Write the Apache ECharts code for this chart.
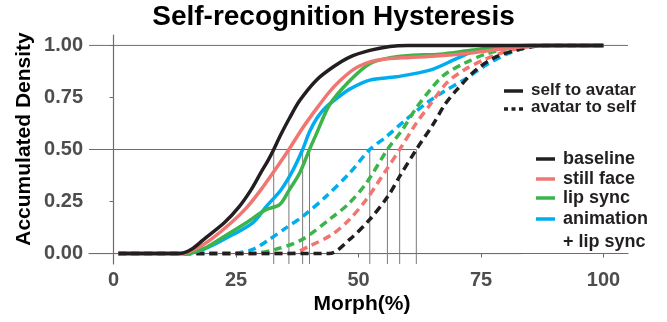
<!DOCTYPE html>
<html>
<head>
<meta charset="utf-8">
<script src="https://cdn.jsdelivr.net/npm/echarts@6/dist/echarts.min.js"></script>
<style>
  html, body { margin: 0; background: #fff; }
  #chart { width: 667px; height: 322px; }
</style>
</head>
<body>
<div id="chart"></div>
<script>
var FONT = '"Liberation Sans", Arial, sans-serif';

var xTicks = [0, 25, 50, 75, 100];
var yTicks = [0, 0.25, 0.5, 0.75, 1];

var conditions = ['baseline', 'still face', 'lip sync', 'animation'];
var colors = ['#231f20', '#f07672', '#3bb54a', '#00aeef'];

// self to avatar (solid)
var baselineSelf = [[1,0],[13.5,0],[16,0.022],[18.5,0.07],[22.6,0.148],[25.7,0.227],[28.1,0.307],[30.1,0.39],[31.6,0.45],[32.7,0.5],[34,0.565],[35.9,0.65],[38,0.735],[41.4,0.833],[44.8,0.896],[48.2,0.944],[52.3,0.976],[56.4,0.995],[60,1],[100,1]];
var stillSelf = [[1,0],[14,0],[17,0.025],[19.9,0.068],[24,0.148],[27.4,0.227],[30.5,0.32],[33.2,0.41],[35.8,0.5],[38.5,0.6],[41.4,0.695],[44,0.775],[46.2,0.83],[49,0.885],[51.6,0.915],[54,0.93],[56.4,0.937],[60.5,0.942],[66.6,0.95],[73.4,0.965],[80.2,0.985],[86,0.998],[90,1],[100,1]];
var lipSelf = [[1,0],[15,0],[18.5,0.025],[21.6,0.068],[27.1,0.148],[31,0.21],[33.9,0.235],[35.9,0.307],[38,0.387],[40,0.5],[41.5,0.58],[44.1,0.715],[48.2,0.83],[52.3,0.912],[56.4,0.941],[60.5,0.952],[66.6,0.958],[73.4,0.978],[80.2,0.995],[85,1],[100,1]];
var animSelf = [[1,0],[14.5,0],[18.5,0.022],[22.5,0.068],[28.4,0.148],[31.2,0.227],[34.2,0.307],[36.6,0.4],[38.6,0.5],[40,0.585],[41.5,0.65],[43,0.695],[45.5,0.745],[48.2,0.79],[52.3,0.833],[57.7,0.849],[64.6,0.881],[70,0.936],[74.1,0.976],[80,0.997],[85,1],[100,1]];

// avatar to self (dashed)
var baselineAvatar = [[1,0],[44,0],[48.2,0.068],[52.3,0.164],[56,0.275],[58.4,0.371],[61.8,0.5],[65.2,0.62],[67.6,0.715],[70,0.785],[74.1,0.885],[78.2,0.946],[82.3,0.978],[87,0.998],[92,1],[100,1]];
var stillAvatar = [[1,0],[36,0],[40,0.036],[44.5,0.09],[48,0.16],[51.6,0.26],[55.7,0.403],[58.4,0.5],[61.8,0.626],[64.6,0.715],[68,0.82],[71.4,0.88],[75.5,0.93],[80.2,0.972],[85,0.995],[90,1],[100,1]];
var lipAvatar = [[1,0],[28,0],[33,0.02],[38.3,0.065],[44.4,0.17],[48,0.24],[51.6,0.339],[55.9,0.5],[59.1,0.6],[61.8,0.7],[64.6,0.785],[67.3,0.855],[71.4,0.912],[76.2,0.96],[82.3,0.992],[88,1],[100,1]];
var animAvatar = [[1,0],[24,0],[28.4,0.02],[31.8,0.068],[35,0.12],[38.7,0.18],[43.4,0.275],[48.2,0.387],[52.3,0.5],[55.7,0.562],[59.5,0.64],[64,0.725],[67.5,0.78],[71.4,0.833],[76,0.905],[80.5,0.96],[86,0.997],[90,1],[100,1]];

// 50% crossing points and reference segments
var crossSelf = [32.7, 35.8, 38.6, 40.0];
var crossAvatar = [52.3, 55.9, 58.4, 61.8];
var hRefs = [[1, 105], [0.5, 61.8], [0, 83.5]]; // [y, x end]

var selfData = [baselineSelf, stillSelf, lipSelf, animSelf];
var avatarData = [baselineAvatar, stillAvatar, lipAvatar, animAvatar];

var chart = echarts.init(document.getElementById('chart'));

var series = [];
hRefs.forEach(function (h) {
  series.push({
    type: 'line', silent: true, symbol: 'none', z: 1,
    lineStyle: { color: '#6d6d6d', width: 1 },
    data: [[-5, h[0]], [h[1], h[0]]]
  });
});
crossSelf.concat(crossAvatar).forEach(function (x) {
  series.push({
    type: 'line', silent: true, symbol: 'none', z: 1,
    lineStyle: { color: '#7a7a7a', width: 1 },
    data: [[x, -0.05], [x, 0.5]]
  });
});
for (var i = 3; i >= 0; i--) {
  series.push({
    name: conditions[i] + ' avatar', type: 'line', smooth: 0.3,
    symbol: 'none', z: 3 + (3 - i),
    lineStyle: { color: colors[i], width: 3.5, type: [8, 5] },
    data: avatarData[i]
  });
}
for (var j = 3; j >= 0; j--) {
  series.push({
    name: conditions[j] + ' self', type: 'line', smooth: 0.3,
    symbol: 'none', z: 10 + (3 - j),
    lineStyle: { color: colors[j], width: 3.5 },
    data: selfData[j]
  });
}

var graphics = [
  { type: 'text', left: 'center', top: 3, style: { text: 'Self-recognition Hysteresis', font: 'bold 28px ' + FONT, fill: '#000' } },
  { type: 'text', x: 24, y: 139, rotation: Math.PI / 2, style: { text: 'Accumulated Density', font: 'bold 21px ' + FONT, fill: '#000', align: 'center', verticalAlign: 'middle' } },
  { type: 'text', x: 362, y: 304, style: { text: 'Morph(%)', font: 'bold 21px ' + FONT, fill: '#000', align: 'center', verticalAlign: 'middle' } },
  { type: 'line', shape: { x1: 504, y1: 91, x2: 523, y2: 91 }, style: { stroke: '#231f20', lineWidth: 3.5 } },
  { type: 'line', shape: { x1: 504, y1: 109, x2: 523, y2: 109 }, style: { stroke: '#231f20', lineWidth: 3.5, lineDash: [4, 3.5] } },
  { type: 'text', x: 531, y: 90, style: { text: 'self to avatar', font: 'bold 17px ' + FONT, fill: '#231f20', verticalAlign: 'middle' } },
  { type: 'text', x: 531, y: 107, style: { text: 'avatar to self', font: 'bold 17px ' + FONT, fill: '#231f20', verticalAlign: 'middle' } }
];
var legendY = [159, 179, 198, 219];
conditions.forEach(function (c, k) {
  graphics.push({ type: 'line', shape: { x1: 536, y1: legendY[k], x2: 555, y2: legendY[k] }, style: { stroke: colors[k], lineWidth: 3.5 } });
  graphics.push({ type: 'text', x: 563, y: legendY[k], style: { text: c, font: 'bold 18px ' + FONT, fill: '#231f20', verticalAlign: 'middle' } });
});
graphics.push({ type: 'text', x: 563, y: 242, style: { text: '+ lip sync', font: 'bold 18px ' + FONT, fill: '#231f20', verticalAlign: 'middle' } });

chart.setOption({
  animation: false,
  grid: { left: 89, right: 39, top: 35, bottom: 58 },
  xAxis: {
    type: 'value', min: -5, max: 105,
    splitLine: { show: false },
    axisLine: { lineStyle: { color: '#6d6d6d', width: 1.2 } },
    axisTick: { show: true, customValues: xTicks, length: 4, lineStyle: { color: '#6d6d6d' } },
    axisLabel: { customValues: xTicks, color: '#4d4d4d', fontFamily: FONT, fontWeight: 'bold', fontSize: 20, margin: 6 }
  },
  yAxis: {
    type: 'value', min: -0.05, max: 1.05,
    splitLine: { show: false },
    axisLine: { show: true, lineStyle: { color: '#6d6d6d', width: 1.2 } },
    axisTick: { show: true, customValues: yTicks, length: 4, lineStyle: { color: '#6d6d6d' } },
    axisLabel: {
      customValues: yTicks, color: '#4d4d4d', fontFamily: FONT, fontWeight: 'bold', fontSize: 20, margin: 6,
      formatter: function (v) { return v.toFixed(2); }
    }
  },
  graphic: graphics,
  series: series
});
</script>
</body>
</html>
